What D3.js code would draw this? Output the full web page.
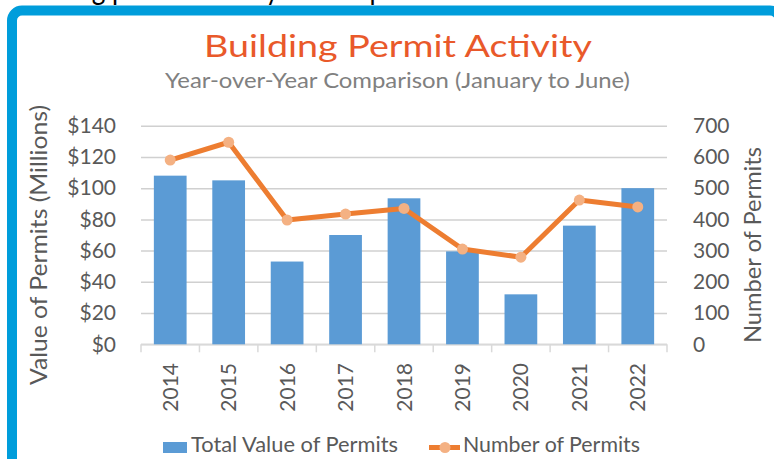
<!DOCTYPE html>
<html>
<head>
<meta charset="utf-8">
<script src="https://cdn.jsdelivr.net/npm/d3@7"></script>
<style>
  body { margin: 0; background: #fff; }
  svg { display: block; font-family: "Lato", "Open Sans", sans-serif; }
</style>
</head>
<body>
<svg id="chart" width="774" height="459"></svg>
<script>
// chart data
var years = ["2014", "2015", "2016", "2017", "2018", "2019", "2020", "2021", "2022"];
var totalValue = [108, 105, 53, 70, 93.5, 59.5, 32, 76, 100];   // $ millions
var permitCount = [590, 647, 398, 417, 435, 305, 279, 462, 440];
var valueTicks = [0, 20, 40, 60, 80, 100, 120, 140];
var countTicks = [0, 100, 200, 300, 400, 500, 600, 700];

var blue = "#5B9BD5";
var orange = "#ED7D31";
var markerFill = "#F4B183";
var textGray = "#595959";

var svg = d3.select("#chart");

// squeeze a text to a given width (the original used a narrow font)
function fit(sel, w) {
    sel.attr("textLength", w).attr("lengthAdjust", "spacingAndGlyphs");
}

// cut-off line of the page text above the frame, only descenders show
svg.append("text")
    .attr("x", 12)
    .attr("y", 0)
    .attr("font-size", 30)
    .attr("fill", "#000")
    .text("Building permit activity for the period is shown in the chart below.")
    .call(fit, 760);

// blue rounded frame
svg.append("rect")
    .attr("x", 12)
    .attr("y", 10.5)
    .attr("width", 768)
    .attr("height", 600)
    .attr("rx", 10)
    .attr("fill", "#fff")
    .attr("stroke", "#009DDB")
    .attr("stroke-width", 10);

// titles
svg.append("text")
    .attr("x", 398)
    .attr("y", 57)
    .attr("text-anchor", "middle")
    .attr("font-size", 31)
    .attr("fill", "#E9592A")
    .text("Building Permit Activity")
    .call(fit, 388);

svg.append("text")
    .attr("x", 397.5)
    .attr("y", 88)
    .attr("text-anchor", "middle")
    .attr("font-size", 21)
    .attr("fill", "#808080")
    .text("Year-over-Year Comparison (January to June)")
    .call(fit, 465);

// plot area
var plotLeft = 141, plotRight = 667, plotTop = 125.7, plotBottom = 344.3;

var xScale = d3.scaleBand()
    .domain(years)
    .range([plotLeft, plotRight])
    .paddingInner(0.44)
    .paddingOuter(0.22);

var yValue = d3.scaleLinear().domain([0, 140]).range([plotBottom, plotTop]);
var yCount = d3.scaleLinear().domain([0, 700]).range([plotBottom, plotTop]);

// gridlines
var grid = svg.append("g")
    .attr("transform", "translate(" + plotLeft + ",0)")
    .call(d3.axisLeft(yValue).tickValues(valueTicks).tickSize(-(plotRight - plotLeft)).tickFormat(""));
grid.select(".domain").remove();
grid.selectAll("line").attr("stroke", "#D0D0D0").attr("stroke-width", 1.5);

// bottom axis line and category ticks
svg.append("line")
    .attr("x1", plotLeft).attr("x2", plotRight)
    .attr("y1", plotBottom).attr("y2", plotBottom)
    .attr("stroke", "#D9D9D9").attr("stroke-width", 1.5);

svg.append("g")
    .selectAll("line")
    .data(d3.range(years.length + 1))
    .enter()
    .append("line")
    .attr("x1", function (i) { return plotLeft + i * xScale.step(); })
    .attr("x2", function (i) { return plotLeft + i * xScale.step(); })
    .attr("y1", plotBottom)
    .attr("y2", plotBottom + 8)
    .attr("stroke", "#D9D9D9")
    .attr("stroke-width", 1.5);

// bars
svg.append("g")
    .selectAll("rect")
    .data(totalValue)
    .enter()
    .append("rect")
    .attr("x", function (d, i) { return xScale(years[i]); })
    .attr("y", function (d) { return yValue(d); })
    .attr("width", xScale.bandwidth())
    .attr("height", function (d) { return plotBottom - yValue(d); })
    .attr("fill", blue);

// permit count line
var line = d3.line()
    .x(function (d, i) { return xScale(years[i]) + xScale.bandwidth() / 2; })
    .y(function (d) { return yCount(d); });

svg.append("path")
    .datum(permitCount)
    .attr("d", line)
    .attr("fill", "none")
    .attr("stroke", orange)
    .attr("stroke-width", 5)
    .attr("stroke-linejoin", "round");

svg.append("g")
    .selectAll("circle")
    .data(permitCount)
    .enter()
    .append("circle")
    .attr("cx", function (d, i) { return xScale(years[i]) + xScale.bandwidth() / 2; })
    .attr("cy", function (d) { return yCount(d); })
    .attr("r", 5.5)
    .attr("fill", markerFill);

// left axis labels
var leftAxis = svg.append("g")
    .attr("transform", "translate(116,0)")
    .call(d3.axisLeft(yValue).tickValues(valueTicks).tickSize(0).tickPadding(0)
        .tickFormat(function (d) { return "$" + d; }));
leftAxis.select(".domain").remove();
leftAxis.selectAll("text").attr("font-size", 21).attr("font-family", "Lato").attr("fill", textGray);

// right axis labels
var rightAxis = svg.append("g")
    .attr("transform", "translate(693,0)")
    .call(d3.axisRight(yCount).tickValues(countTicks).tickSize(0).tickPadding(0));
rightAxis.select(".domain").remove();
rightAxis.selectAll("text").attr("font-size", 21).attr("font-family", "Lato").attr("fill", textGray);

// year labels, rotated
var xAxis = svg.append("g")
    .attr("transform", "translate(0," + plotBottom + ")")
    .call(d3.axisBottom(xScale).tickSize(0));
xAxis.select(".domain").remove();
xAxis.selectAll("text")
    .attr("transform", "rotate(-90)")
    .attr("x", -(363 - plotBottom))
    .attr("y", 0)
    .attr("dy", "0.36em")
    .attr("text-anchor", "end")
    .attr("font-size", 21)
    .attr("font-family", "Lato")
    .attr("fill", textGray);

// axis titles
svg.append("text")
    .attr("transform", "translate(47,245) rotate(-90)")
    .attr("text-anchor", "middle")
    .attr("font-size", 23)
    .attr("fill", textGray)
    .text("Value of Permits (Millions)")
    .call(fit, 280);

svg.append("text")
    .attr("transform", "translate(761,245) rotate(-90)")
    .attr("text-anchor", "middle")
    .attr("font-size", 23)
    .attr("fill", textGray)
    .text("Number of Permits")
    .call(fit, 196);

// legend
var legend = svg.append("g");
legend.append("rect")
    .attr("x", 163).attr("y", 442)
    .attr("width", 24).attr("height", 11)
    .attr("fill", blue);
legend.append("text")
    .attr("x", 191).attr("y", 452)
    .attr("font-size", 21)
    .attr("fill", textGray)
    .text("Total Value of Permits")
    .call(fit, 207);

legend.append("line")
    .attr("x1", 429).attr("x2", 460)
    .attr("y1", 447.5).attr("y2", 447.5)
    .attr("stroke", orange)
    .attr("stroke-width", 5);
legend.append("circle")
    .attr("cx", 445).attr("cy", 447.5)
    .attr("r", 5.5)
    .attr("fill", markerFill);
legend.append("text")
    .attr("x", 463).attr("y", 452)
    .attr("font-size", 21)
    .attr("fill", textGray)
    .text("Number of Permits")
    .call(fit, 177);
</script>
</body>
</html>
